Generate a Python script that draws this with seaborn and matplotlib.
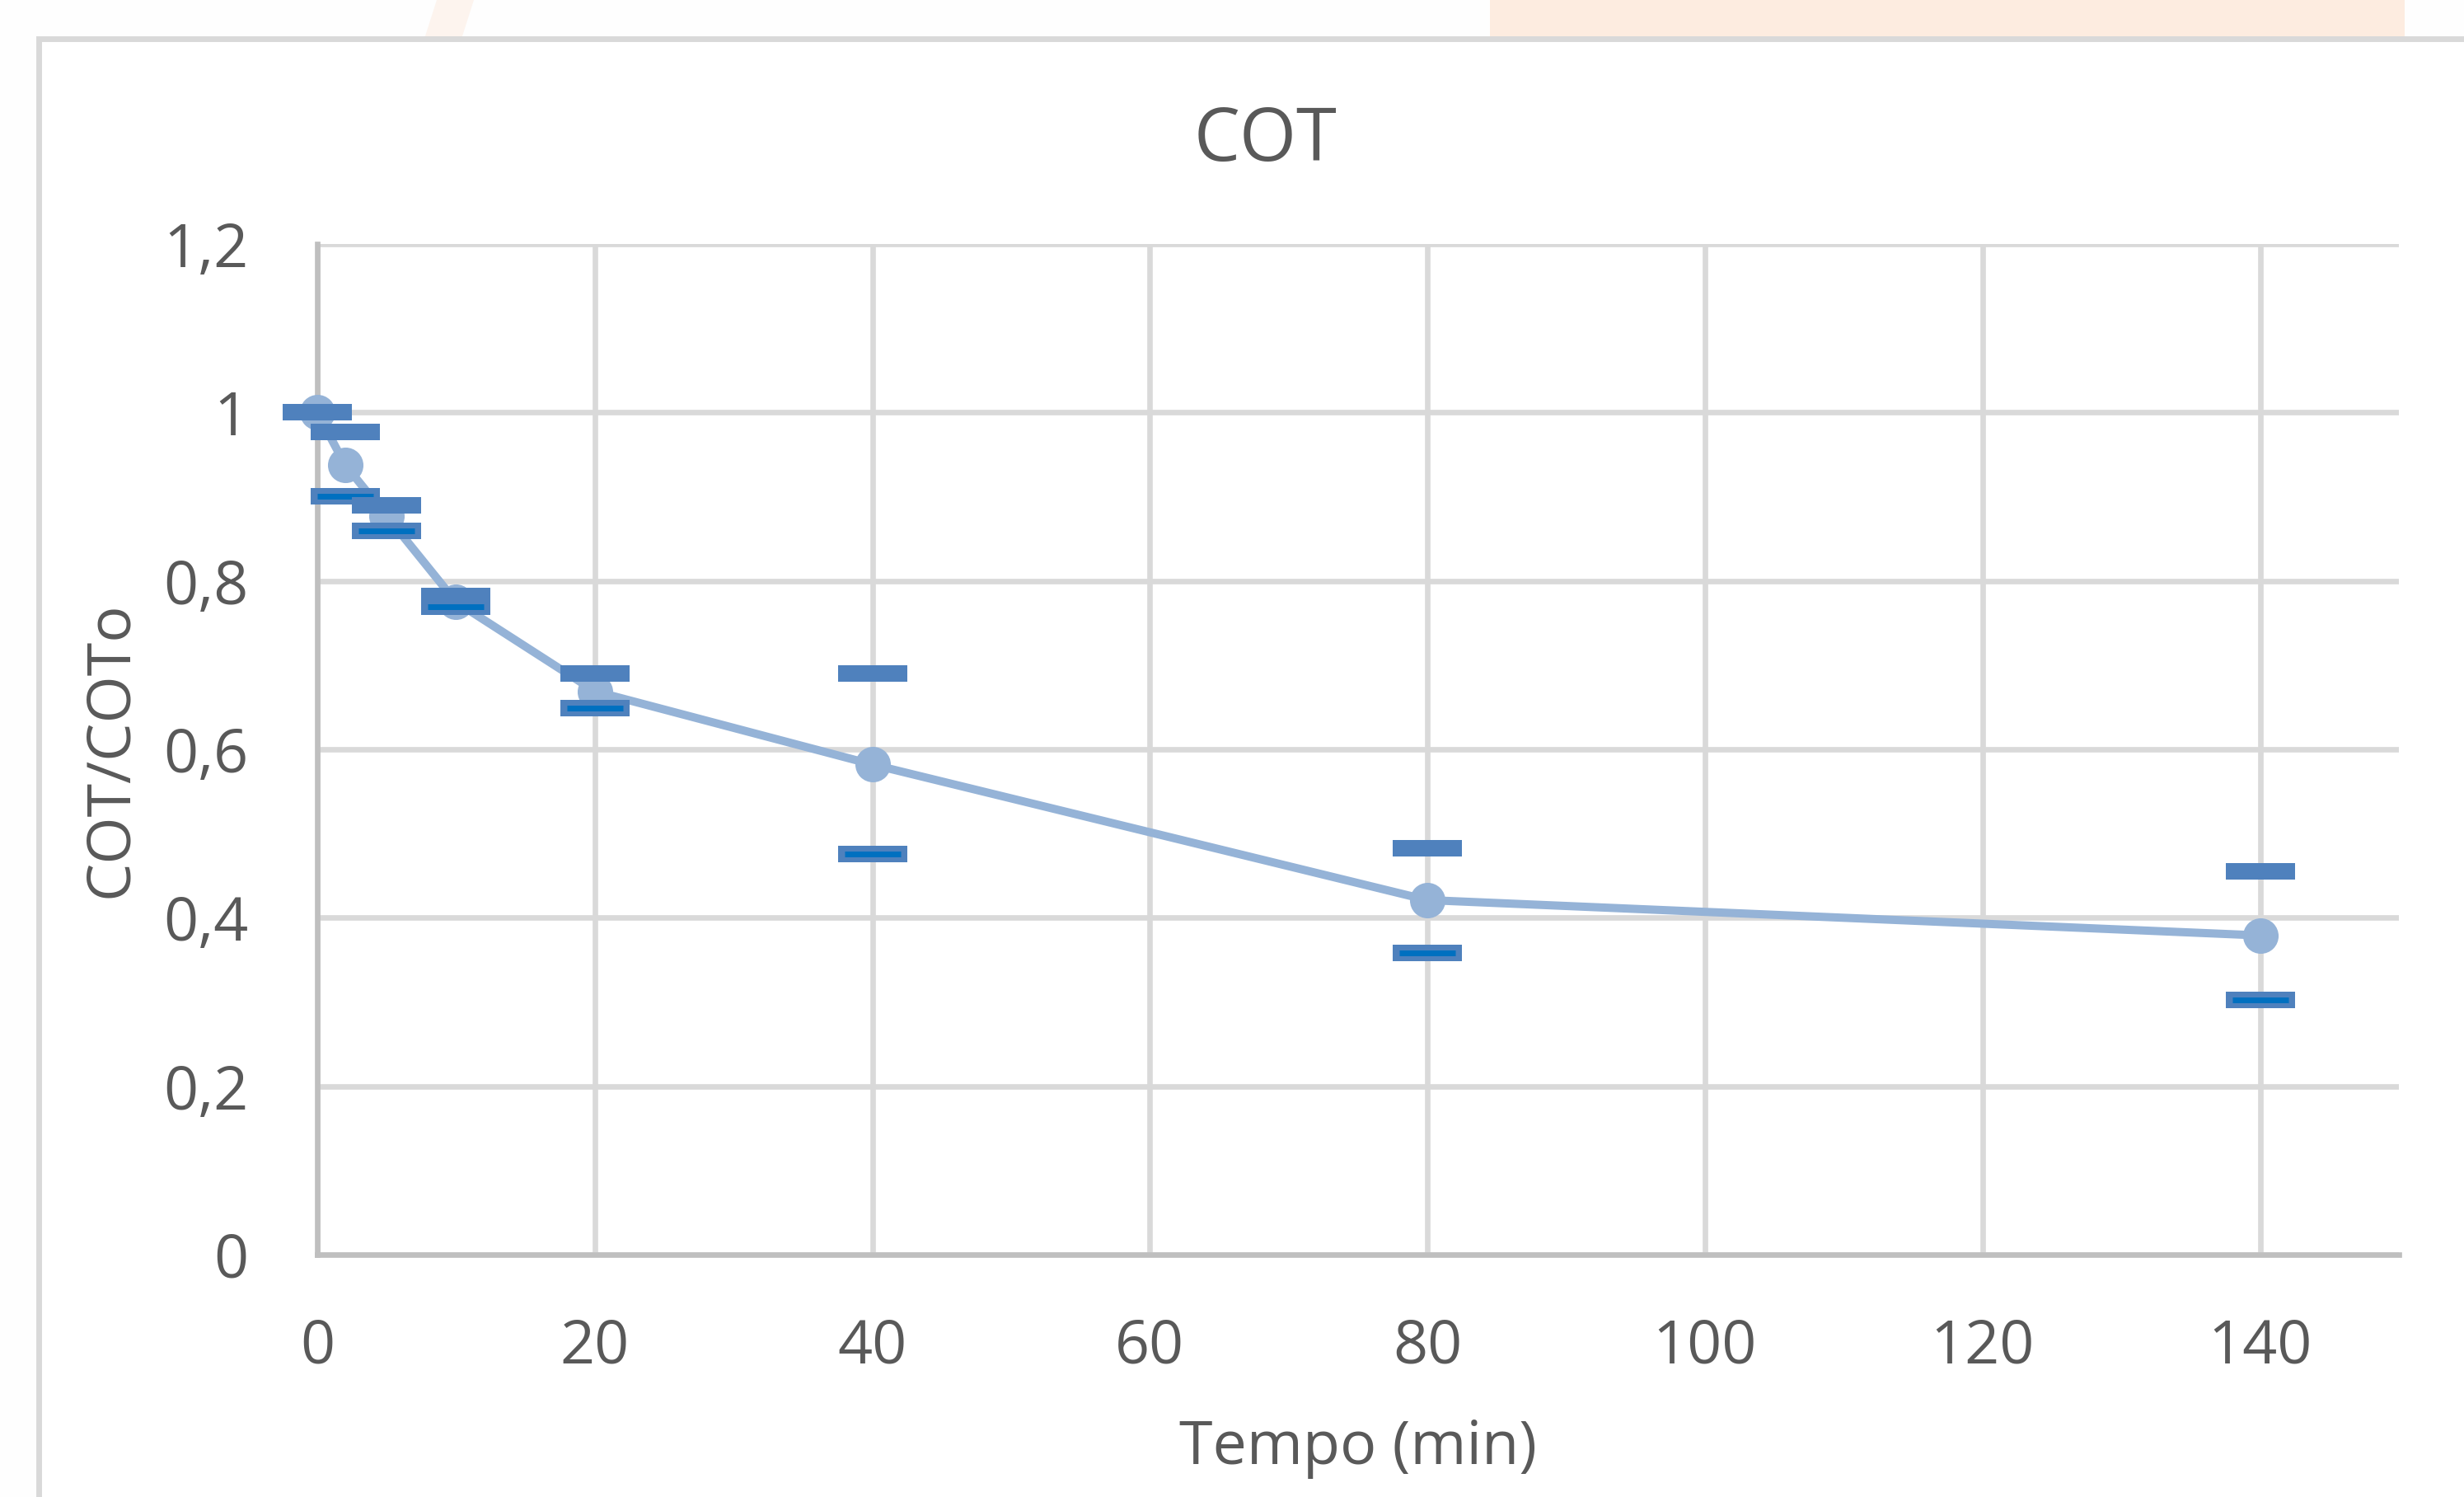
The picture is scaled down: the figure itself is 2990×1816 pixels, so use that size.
import numpy as np
import matplotlib
matplotlib.use('Agg')
import matplotlib.pyplot as plt
from matplotlib.patches import Rectangle, Polygon
from matplotlib.ticker import FuncFormatter
import seaborn as sns

# values
time_min = [0, 2, 5, 10, 20, 40, 80, 140]
cot_ratio = [1.00, 0.938, 0.877, 0.775, 0.669, 0.582, 0.421, 0.379]
cot_upper = [1.00, 0.977, 0.890, 0.782, 0.690, 0.690, 0.483, 0.455]
cot_lower = [1.00, 0.900, 0.859, 0.769, 0.649, 0.476, 0.358, 0.302]
x_ticks = [0, 20, 40, 60, 80, 100, 120, 140]
y_ticks = [0, 0.2, 0.4, 0.6, 0.8, 1.0, 1.2]

sns.set_theme(style='white')
plt.rcParams['font.family'] = ['Open Sans', 'DejaVu Sans']
text_col = '#595959'

W, H, DPI = 2990, 1816, 200
fig = plt.figure(figsize=(W / DPI, H / DPI), dpi=DPI)
fig.patch.set_facecolor('#FEFEFE')

# slide decoration above the chart frame
fig.patches.append(Rectangle((1808 / W, 1 - 47 / H), (2918 - 1808) / W, 47 / H,
                             transform=fig.transFigure, facecolor='#FDECE0',
                             edgecolor='none', zorder=-3))
fig.patches.append(Polygon([(530 / W, 1), (575 / W, 1), (560 / W, 1 - 47 / H), (515 / W, 1 - 47 / H)],
                           closed=True, transform=fig.transFigure, facecolor='#FDF4EE',
                           edgecolor='none', zorder=-3))
# chart frame
fig.patches.append(Rectangle((47 / W, -0.05), 1.1, 1.05 - 47 / H,
                             transform=fig.transFigure, facecolor='white',
                             edgecolor='#D9D9D9', linewidth=2.5, zorder=-2))

ax = fig.add_axes([385 / W, 1 - 1522 / H, (2911 - 385) / W, (1522 - 296) / H])
ax.set_facecolor('none')

line_col = '#95B3D7'
cap_col = '#4F81BD'
inner_col = '#0070C0'

sns.lineplot(x=time_min, y=cot_ratio, ax=ax, color=line_col, linewidth=3.6,
             marker='o', markersize=15.5, markerfacecolor=line_col,
             markeredgewidth=0, clip_on=False, zorder=3)

# lower error caps (outlined look), then upper caps on top
ax.plot(time_min, cot_lower, linestyle='none', marker='_', markersize=29.9,
        markeredgewidth=7.2, color=cap_col, clip_on=False, zorder=4)
ax.plot(time_min, cot_lower, linestyle='none', marker='_', markersize=24.8,
        markeredgewidth=2.5, color=inner_col, clip_on=False, zorder=4)
ax.plot(time_min, cot_upper, linestyle='none', marker='_', markersize=29.9,
        markeredgewidth=7.2, color=cap_col, clip_on=False, zorder=5)

ax.set_xlim(0, 150)
ax.set_ylim(0, 1.2)
ax.set_xticks(x_ticks)
ax.set_yticks(y_ticks)
ax.yaxis.set_major_formatter(FuncFormatter(lambda v, p: f'{v:g}'.replace('.', ',')))

ax.grid(True, color='#D9D9D9', linewidth=2.4)
ax.set_axisbelow(True)
for s in ['top', 'right']:
    ax.spines[s].set_visible(False)
for s in ['left', 'bottom']:
    ax.spines[s].set_color('#BFBFBF')
    ax.spines[s].set_linewidth(2.4)

ax.tick_params(axis='both', length=0, labelsize=26.5, labelcolor=text_col)
ax.tick_params(axis='x', pad=27)
ax.tick_params(axis='y', pad=30)

ax.set_xlabel('Tempo (min)', fontsize=26.5, color=text_col, va='baseline')
ax.xaxis.set_label_coords(0.5, -0.2075)
ax.set_ylabel('COT/COTo', fontsize=26.5, color=text_col, va='baseline')
ax.yaxis.set_label_coords(-0.0915, 0.5)

fig.text(1536 / W, 1 - 172 / H, 'COT', fontsize=32, color=text_col,
         ha='center', va='center')

fig.savefig('out.png', dpi=DPI)
